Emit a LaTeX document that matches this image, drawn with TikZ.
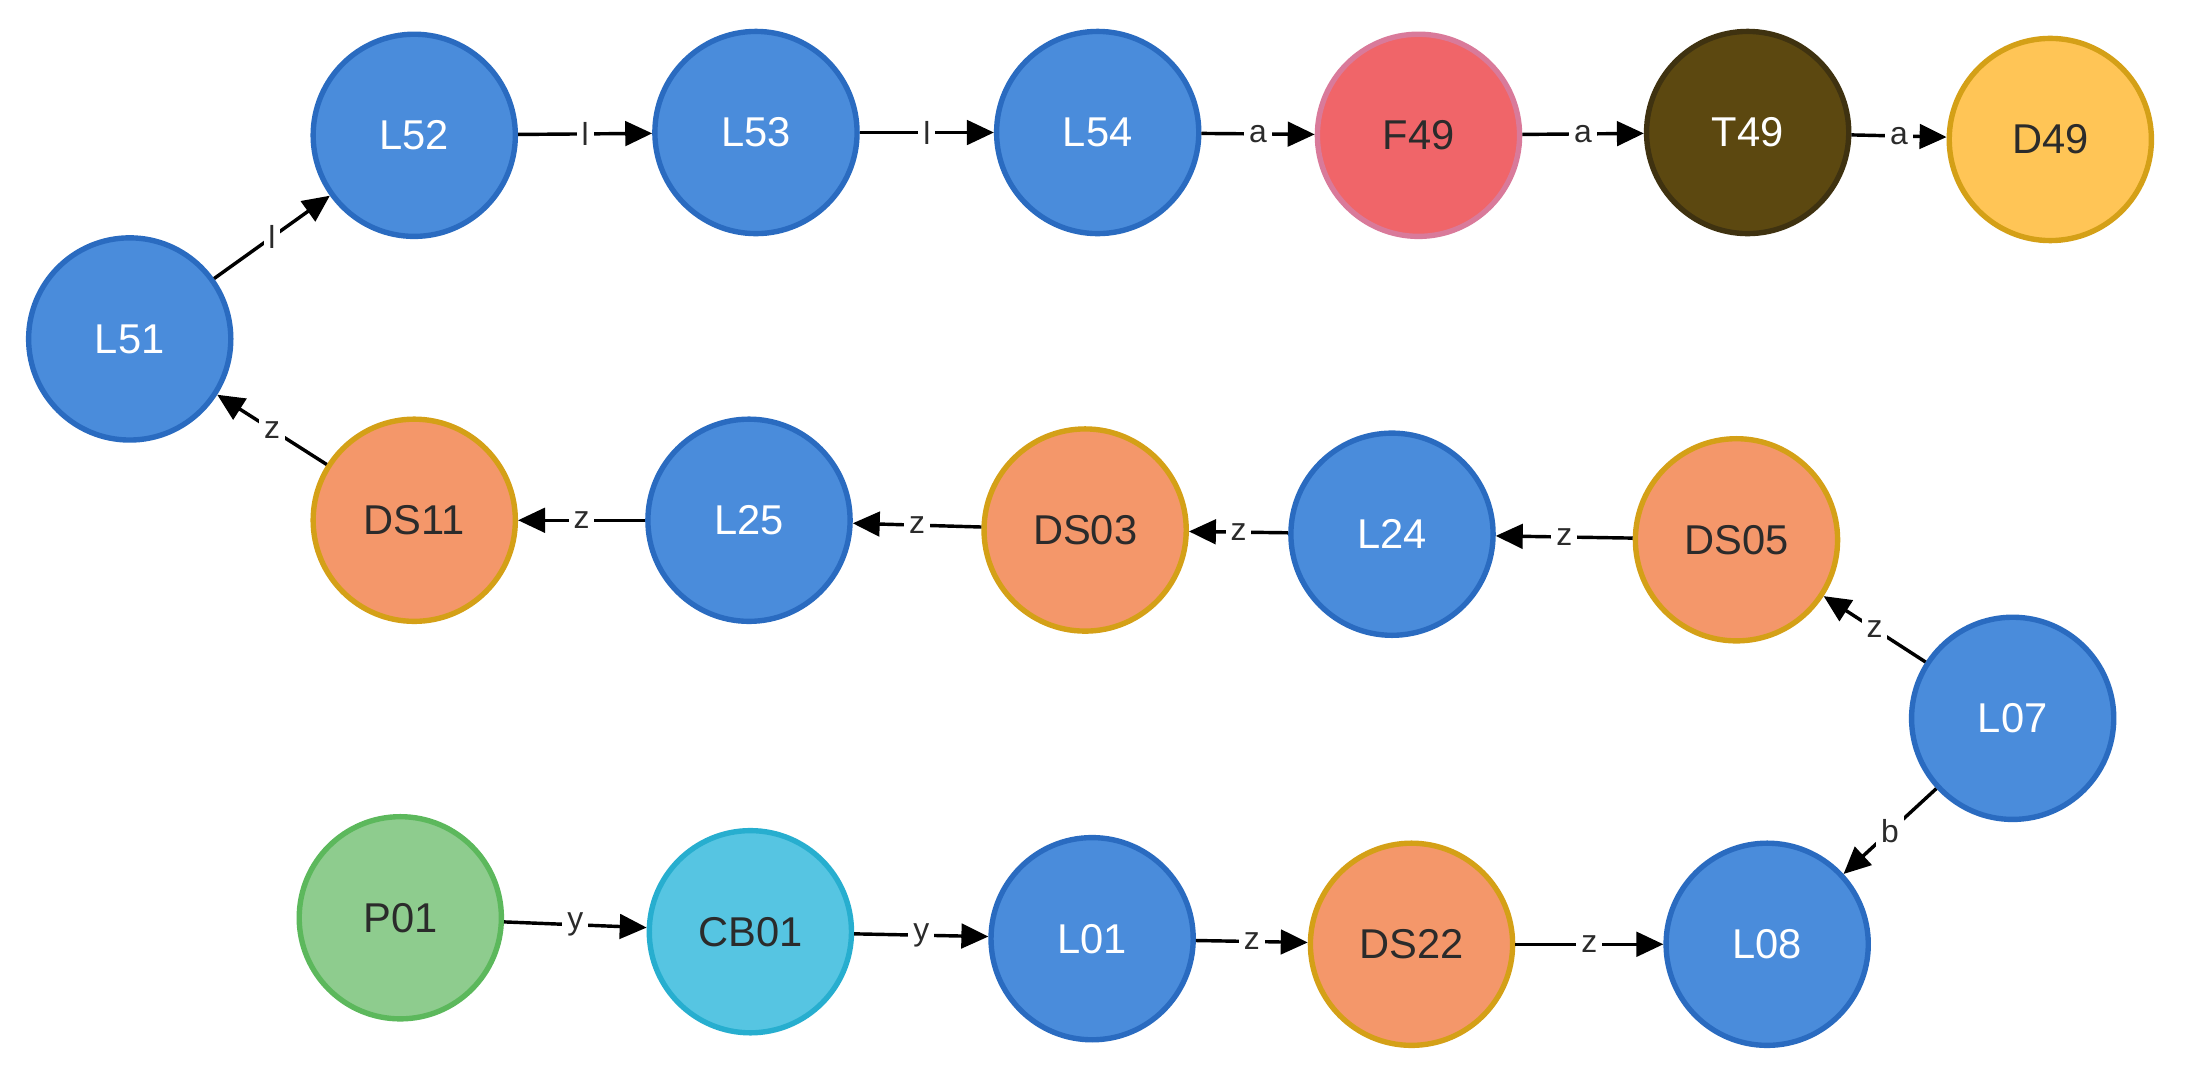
\documentclass[tikz,border=0pt]{standalone}
\usepackage{fontspec}
\setmainfont{Liberation Sans}
\usetikzlibrary{arrows.meta}
\definecolor{bF}{HTML}{4A8CDB}\definecolor{bD}{HTML}{2A6BC0}
\definecolor{oF}{HTML}{F4976A}\definecolor{oD}{HTML}{D4A017}
\definecolor{rF}{HTML}{F06569}\definecolor{rD}{HTML}{D97A9A}
\definecolor{tF}{HTML}{5C4810}\definecolor{tD}{HTML}{3F3210}
\definecolor{yF}{HTML}{FFC556}
\definecolor{gF}{HTML}{8ECC8E}\definecolor{gD}{HTML}{5CB85C}
\definecolor{cF}{HTML}{56C5E2}\definecolor{cD}{HTML}{27AECF}
\definecolor{tx}{HTML}{2B2B2B}
\tikzset{
 n/.style={circle,minimum size=2.9cm,line width=2.2pt,font=\fontsize{17}{17}\selectfont,inner sep=0pt},
 blue/.style={n,fill=bF,draw=bD,text=white},
 ora/.style={n,fill=oF,draw=oD,text=tx},
 e/.style={-{Triangle[length=11pt,width=10pt]},line width=1.4pt,black},
 l/.style={fill=white,font=\fontsize{13}{13}\selectfont,inner sep=2pt,text=tx}
}
\begin{document}
\begin{tikzpicture}[x=0.02cm,y=-0.02cm]
\useasboundingbox (0,0) rectangle (1568,772);
\node[blue] (L52) at (297,97) {L52};
\node[blue] (L53) at (542,95) {L53};
\node[blue] (L54) at (787,95) {L54};
\node[n,fill=rF,draw=rD,text=tx] (F49) at (1017,97) {F49};
\node[n,fill=tF,draw=tD,text=white] (T49) at (1253,95) {T49};
\node[n,fill=yF,draw=oD,text=tx] (D49) at (1470,100) {D49};
\node[blue] (L51) at (93,243) {L51};
\node[ora] (DS11) at (297,373) {DS11};
\node[blue] (L25) at (537,373) {L25};
\node[ora] (DS03) at (778,380) {DS03};
\node[blue] (L24) at (998,383) {L24};
\node[ora] (DS05) at (1245,387) {DS05};
\node[blue] (L07) at (1443,515) {L07};
\node[n,fill=gF,draw=gD,text=tx] (P01) at (287,658) {P01};
\node[n,fill=cF,draw=cD,text=tx] (CB01) at (538,668) {CB01};
\node[blue] (L01) at (783,673) {L01};
\node[ora] (DS22) at (1012,677) {DS22};
\node[blue] (L08) at (1267,677) {L08};
\draw[e] (L51) -- node[l]{l} (L52);
\draw[e] (L52) -- node[l]{l} (L53);
\draw[e] (L53) -- node[l]{l} (L54);
\draw[e] (L54) -- node[l]{a} (F49);
\draw[e] (F49) -- node[l]{a} (T49);
\draw[e] (T49) -- node[l]{a} (D49);
\draw[e] (DS11) -- node[l]{z} (L51);
\draw[e] (L25) -- node[l]{z} (DS11);
\draw[e] (DS03) -- node[l]{z} (L25);
\draw[e] (L24) -- node[l]{z} (DS03);
\draw[e] (DS05) -- node[l]{z} (L24);
\draw[e] (L07) -- node[l]{z} (DS05);
\draw[e] (L07) -- node[l]{b} (L08);
\draw[e] (P01) -- node[l]{y} (CB01);
\draw[e] (CB01) -- node[l]{y} (L01);
\draw[e] (L01) -- node[l]{z} (DS22);
\draw[e] (DS22) -- node[l]{z} (L08);
\end{tikzpicture}
\end{document}
